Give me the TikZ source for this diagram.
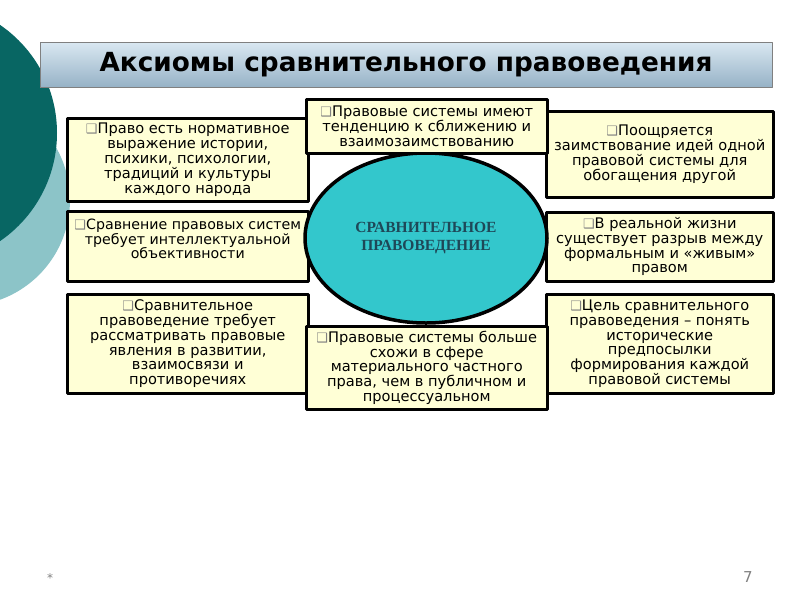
\documentclass[tikz,border=0pt]{standalone}
\usepackage{fontspec}
\setmainfont{DejaVu Sans}
\newfontfamily\ovalfont{Liberation Serif}
\usetikzlibrary{shapes.geometric}
\definecolor{darkteal}{RGB}{8,102,99}
\definecolor{lightteal}{RGB}{140,196,200}
\definecolor{cream}{RGB}{255,255,214}
\definecolor{ovalcyan}{RGB}{51,199,204}
\definecolor{ovalink}{RGB}{30,72,88}
\definecolor{bartop}{RGB}{218,232,242}
\definecolor{barbot}{RGB}{150,178,198}
\newcommand{\boxbullet}{{\fontsize{13}{13}\selectfont\color{gray}❑}}
\begin{document}
\begin{tikzpicture}[x=1pt,y=-1pt,line join=round,font=\fontsize{14.6}{14.8}\selectfont,
	axiom/.style={draw,line width=2.5pt,fill=cream,align=center,inner sep=0pt,anchor=north west},
	wide/.style={axiom,minimum width=241},
	narrow/.style={axiom,minimum width=227}]
	\clip (0,0) rectangle (800,600);
	\fill[white] (0,0) rectangle (800,600);
	\foreach \c/\p/\r in {lightteal/{(-36,200)}/106,darkteal/{(-74,133)}/131}
	\fill[\c] \p circle (\r);
	\path
	(66,117) coordinate (L1) (66,210) coordinate (L2) (66,293) coordinate (L3)
	(545,110) coordinate (R1) (545,211) coordinate (R2) (545,293) coordinate (R3)
	(305,98) coordinate (C1) (305,325) coordinate (C2)
	;
	% title bar
	\node[draw=gray,top color=bartop,bottom color=barbot,minimum width=732,minimum height=45,
		font=\fontsize{26.3}{26}\selectfont\bfseries] (title) at (406,64.5) {Аксиомы сравнительного правоведения};
	% left column
	\node[wide,minimum height=83] (law) at (L1) {\boxbullet Право есть нормативное\\выражение истории,\\психики, психологии,\\традиций и культуры\\каждого народа};
	\node[wide,minimum height=70,font=\fontsize{14.2}{14.8}\selectfont] (objective) at (L2) {\boxbullet Сравнение правовых систем\\требует интеллектуальной\\объективности\\[0pt]~};
	\node[wide,minimum height=99] (develop) at (L3) {\boxbullet Сравнительное\\правоведение требует\\рассматривать правовые\\явления в развитии,\\взаимосвязи и\\противоречиях};
	% right column
	\node[narrow,minimum height=86] (borrow) at (R1) {\boxbullet Поощряется\\заимствование идей одной\\правовой системы для\\обогащения другой};
	\node[narrow,minimum height=69] (gap) at (R2) {\boxbullet В реальной жизни\\существует разрыв между\\формальным и «живым»\\правом};
	\node[narrow,minimum height=99] (aim) at (R3) {\boxbullet Цель сравнительного\\правоведения – понять\\исторические\\предпосылки\\формирования каждой\\правовой системы};
	% centre
	\node[ellipse,draw,line width=3.5pt,fill=ovalcyan,minimum width=242,minimum height=170,align=center,
		text=ovalink,font=\fontsize{15.5}{18}\selectfont\ovalfont\bfseries] (core) at (426,238) {СРАВНИТЕЛЬНОЕ\\ПРАВОВЕДЕНИЕ};
	\node[wide,minimum height=54] (converge) at (C1) {\boxbullet Правовые системы имеют\\тенденцию к сближению и\\взаимозаимствованию};
	\node[wide,minimum height=83] (private) at (C2) {\boxbullet Правовые системы больше\\схожи в сфере\\материального частного\\права, чем в публичном и\\процессуальном};
	% footer
	\node[gray,font=\fontsize{12}{12}\selectfont] (star) at (50,578) {*};
	\node[gray,font=\fontsize{15}{15}\selectfont] (page) at (748,577) {7};
\end{tikzpicture}
\end{document}
